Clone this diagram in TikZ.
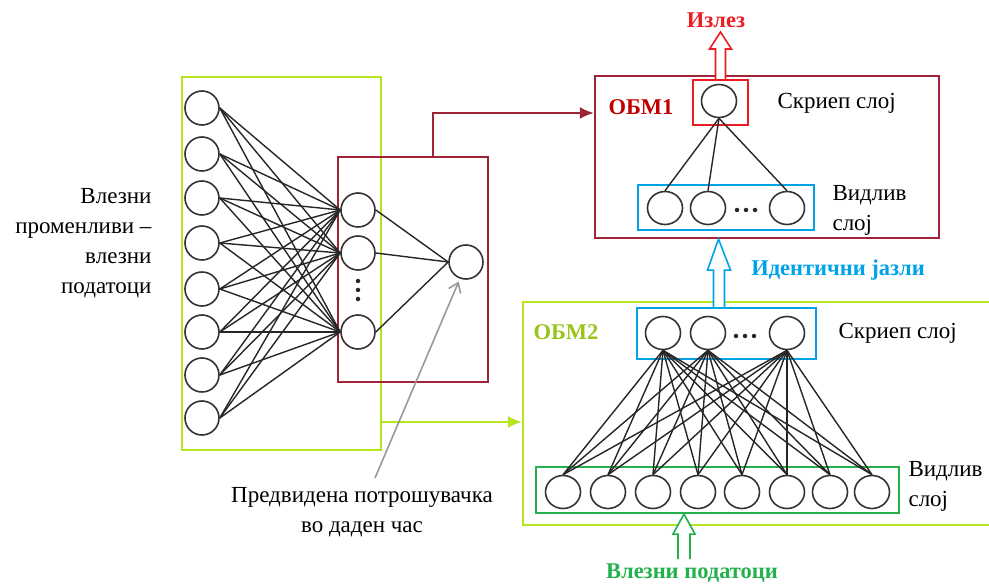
\documentclass[tikz,border=0pt]{standalone}
\usepackage{fontspec}
\setmainfont{Liberation Serif}
\usetikzlibrary{arrows.meta,positioning,calc,shapes.geometric}

\definecolor{limegr}{RGB}{181,230,29}
\definecolor{netred}{RGB}{160,36,56}
\definecolor{tagred}{RGB}{192,0,0}
\definecolor{outred}{RGB}{237,28,36}
\definecolor{visblue}{RGB}{0,162,232}
\definecolor{ingreen}{RGB}{34,177,76}

\begin{document}
\begin{tikzpicture}[x=1pt,y=-1pt,>={Latex[length=14pt,width=12pt]},
    every node/.append style={align=center},
    neuron/.style={draw=black!80, circle, minimum size=34pt, inner sep=0pt, line width=1.6pt},
    unit/.style={draw=black!80, ellipse, minimum width=35pt, minimum height=33pt, inner sep=0pt, line width=1.6pt},
    box/.style={draw, line width=2.2pt, inner sep=0pt},
    link/.style={black!85, line width=1.4pt},
    dot/.style={fill=black!85, circle, inner sep=0pt, minimum size=4.5pt},
    lbl/.style={font=\fontsize{23}{30}\selectfont},
    tag/.style={font=\bfseries\fontsize{22.5}{26}\selectfont}]

  \useasboundingbox (0,0) rectangle (989,585);

  % frames
  \node [box, draw=limegr, minimum width=199pt, minimum height=373pt] (inbox) at (281.5,263.5) {};
  \node [box, draw=netred, minimum width=150pt, minimum height=225pt] (hidbox) at (413,269.5) {};
  \node [box, draw=netred, minimum width=344pt, minimum height=162pt] (obm1) at (767,157) {};
  \node [box, draw=limegr, minimum width=474pt, minimum height=223pt] (obm2) at (760,413.5) {};
  \node [box, draw=outred, minimum width=55pt, minimum height=45pt] (topbox) at (720.5,102.5) {};
  \node [box, draw=visblue, minimum width=176pt, minimum height=45pt] (vis1) at (726,207.5) {};
  \node [box, draw=visblue, minimum width=179pt, minimum height=51pt] (hid2) at (726.5,333.5) {};
  \node [box, draw=ingreen, minimum width=363pt, minimum height=46pt] (vis2) at (717.5,490) {};

  % forecasting network
  \foreach \i/\y in {1/108,2/154,3/198,4/243,5/289,6/332,7/375,8/418}
    \node [neuron] (in\i) at (202,\y) {};
  \node [neuron] (h1) at (358,210) {};
  \node [neuron] (h2) at (358,253) {};
  \node [neuron] (h3) at (358,332) {};
  \foreach \y in {281,290,299}
    \node [dot] at (358,\y) {};
  \node [neuron] (out) at (466,262) {};
  \foreach \i in {1,...,8}
    \foreach \j in {1,2,3}
      \draw [link] (in\i.east) -- (h\j.west);
  \foreach \j in {1,2,3}
    \draw [link] (h\j.east) -- (out.west);

  % OBM1
  \node [unit] (t1) at (719,101) {};
  \node [unit] (a1) at (665,208) {};
  \node [unit] (a2) at (708,208) {};
  \node [unit] (a3) at (787,208) {};
  \foreach \x in {737,746,755}
    \node [dot] at (\x,210) {};
  \foreach \j in {1,2,3}
    \draw [link] (t1.south) -- (a\j.north);

  % OBM2
  \node [unit] (b1) at (663,333) {};
  \node [unit] (b2) at (708,333) {};
  \node [unit] (b3) at (787,333) {};
  \foreach \x in {736,745,754}
    \node [dot] at (\x,336) {};
  \foreach \i/\x in {1/563,2/608,3/653,4/698,5/742,6/787,7/830,8/872}
    \node [unit] (v\i) at (\x,492) {};
  \foreach \j in {1,2,3}
    \foreach \i in {1,...,8}
      \draw [link] (b\j.south) -- (v\i.north);

  % labels
  \node [lbl, align=right, anchor=east] (inlbl) at (155,243) {Влезни\\променливи –\\влезни\\податоци};
  \node [lbl] (pred) at (362,512) {Предвидена потрошувачка\\во даден час};
  \node [lbl, anchor=west] (s1) at (774,103) {Скриеп слој};
  \node [lbl, anchor=west, align=left] (w1) at (829,210) {Видлив\\слој};
  \node [lbl, anchor=west] (s2) at (835,333) {Скриеп слој};
  \node [lbl, anchor=west, align=left] (w2) at (905,486) {Видлив\\слој};
  \node [tag, text=tagred] (n1) at (641,107) {ОБМ1};
  \node [tag, text=limegr!85!black] (n2) at (566,332) {ОБМ2};
  \node [tag, text=outred] (exit) at (716,20) {Излез};
  \node [tag, text=visblue] (same) at (838,270) {Идентични јазли};
  \node [tag, text=ingreen] (data) at (692,573) {Влезни податоци};

  % connectors
  \coordinate (fork) at (433,113);
  \coordinate (feed) at (450,422);
  \draw [->, netred, line width=2.2pt] (hidbox.north -| fork) |- (obm1.west |- fork);
  \draw [->, limegr, line width=2.2pt] (inbox.east |- feed) -- (obm2.west |- feed);
  \draw [-{Straight Barb[length=9pt,width=13pt]}, black!40, line width=1.6pt, shorten >=3pt]
    (375,478) -- (out.-110);

  % hollow arrows
  \draw [outred, line width=1.6pt, fill=white]
    let \p1=(topbox.north), \p2=($(exit.south)+(0,1)$) in
    (\x1-5pt,\y1) -- (\x1-5pt,\y2-17pt) -- (\x1-11pt,\y2-17pt) -- (\x1,\y2)
    -- (\x1+11pt,\y2-17pt) -- (\x1+5pt,\y2-17pt) -- (\x1+5pt,\y1);
  \draw [visblue, line width=1.6pt, fill=white]
    let \p1=(hid2.north), \p2=(obm1.south) in
    (\x1-13pt,\y1) -- (\x1-13pt,\y2-31pt) -- (\x1-19pt,\y2-31pt) -- (\x1-8pt,\y2)
    -- (\x1+4pt,\y2-31pt) -- (\x1-2pt,\y2-31pt) -- (\x1-2pt,\y1);
  \draw [ingreen, line width=1.6pt, fill=white]
    let \p1=($(data.north)+(0,-1)$), \p2=(vis2.south) in
    (\x1-14pt,\y1) -- (\x1-14pt,\y2-20pt) -- (\x1-19pt,\y2-20pt) -- (\x1-8pt,\y2)
    -- (\x1+3pt,\y2-20pt) -- (\x1-2pt,\y2-20pt) -- (\x1-2pt,\y1);
\end{tikzpicture}
\end{document}
